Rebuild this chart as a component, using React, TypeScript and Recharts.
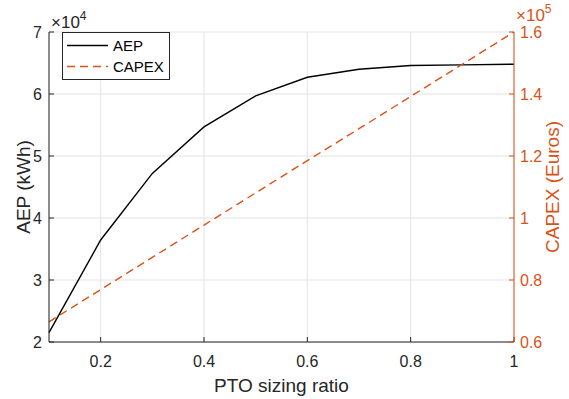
// PTO sizing ratio vs AEP / CAPEX, two y axes (MATLAB yyaxis look).

import {
  CartesianGrid,
  Label,
  Legend,
  Line,
  LineChart,
  XAxis,
  YAxis,
} from "recharts";

const ratio = [0.1, 0.2, 0.3, 0.4, 0.5, 0.6, 0.7, 0.8, 0.9, 1];
const aep = [21500, 36450, 47200, 54700, 59700, 62700, 64000, 64600, 64700, 64800];
const capex = [66500, 76900, 87300, 97700, 108100, 118500, 128800, 139200, 149600, 160000];

const xTicks = [0.2, 0.4, 0.6, 0.8, 1];
const aepTicks = [20000, 30000, 40000, 50000, 60000, 70000];
const capexTicks = [60000, 80000, 100000, 120000, 140000, 160000];

const ORANGE = "#D95319";
const AXIS = "#262626";

const data = ratio.map((r, i) => ({ ratio: r, aep: aep[i], capex: capex[i] }));

function LeftLabel(props: any) {
  const { x, y, height } = props.viewBox;
  const cy = y + height / 2;
  return (
    <g>
      <text
        x={x + 19}
        y={cy}
        transform={`rotate(-90 ${x + 19} ${cy})`}
        textAnchor="middle"
        dy="0.35em"
        fontSize={19}
        fill={AXIS}
      >
        AEP (kWh)
      </text>
      <text x={x + 47} y={y - 4} fontSize={17} fill={AXIS}>
        ×10
        <tspan dy={-8} fontSize={12}>
          4
        </tspan>
      </text>
    </g>
  );
}

function RightLabel(props: any) {
  const { x, y, height } = props.viewBox;
  const cy = y + height / 2;
  return (
    <g>
      <text
        x={x + 38}
        y={cy}
        transform={`rotate(-90 ${x + 38} ${cy})`}
        textAnchor="middle"
        dy="0.35em"
        fontSize={19}
        fill={ORANGE}
      >
        CAPEX (Euros)
      </text>
      <text x={x + 2} y={y - 11} fontSize={17} fill={ORANGE}>
        ×10
        <tspan dy={-8} fontSize={12}>
          5
        </tspan>
      </text>
    </g>
  );
}

function BottomLabel(props: any) {
  const { x, y, width } = props.viewBox;
  return (
    <text x={x + width / 2} y={y + 50} textAnchor="middle" fontSize={19} fill={AXIS}>
      PTO sizing ratio
    </text>
  );
}

function LegendBox(props: any) {
  const items = props.payload || [];
  return (
    <div
      style={{
        border: `1px solid ${AXIS}`,
        background: "#fff",
        width: 106,
        padding: "2px 0 2px 0",
        fontSize: 15,
        color: "#000",
        lineHeight: "21px",
      }}
    >
      {items.map((it: any) => (
        <div key={it.value} style={{ display: "flex", alignItems: "center" }}>
          <svg width={50} height={21}>
            <line
              x1={4}
              x2={45}
              y1={10.5}
              y2={10.5}
              stroke={it.color}
              strokeWidth={1.4}
              strokeDasharray={it.payload?.strokeDasharray}
            />
          </svg>
          <span>{it.value}</span>
        </div>
      ))}
    </div>
  );
}

export default function App() {
  return (
    <div
      style={{
        position: "absolute",
        left: 0,
        top: 0,
        fontFamily: "'Liberation Sans', Arial, sans-serif",
      }}
    >
      <LineChart
        width={569}
        height={399}
        data={data}
        margin={{ top: 32, right: 5, left: 4, bottom: 7 }}
      >
        <CartesianGrid stroke="#e3e3e3" xAxisId="x" yAxisId="left" />
        <XAxis
          xAxisId="x"
          dataKey="ratio"
          type="number"
          domain={[0.1, 1]}
          ticks={xTicks}
          height={50}
          tickSize={-5}
          tickMargin={19}
          stroke={AXIS}
          tick={{ fill: AXIS, fontSize: 16 }}
        >
          <Label content={BottomLabel} />
        </XAxis>
        <XAxis
          xAxisId="top"
          orientation="top"
          dataKey="ratio"
          type="number"
          domain={[0.1, 1]}
          ticks={xTicks}
          height={0}
          tickSize={-5}
          tick={false}
          stroke={AXIS}
        />
        <YAxis
          yAxisId="left"
          domain={[20000, 70000]}
          ticks={aepTicks}
          width={45}
          tickSize={-5}
          tickMargin={12}
          stroke={AXIS}
          tick={{ fill: AXIS, fontSize: 16 }}
          tickFormatter={(v: number) => String(v / 10000)}
        >
          <Label content={LeftLabel} />
        </YAxis>
        <YAxis
          yAxisId="right"
          orientation="right"
          domain={[60000, 160000]}
          ticks={capexTicks}
          width={50}
          tickSize={-5}
          tickMargin={11}
          stroke={ORANGE}
          tick={{ fill: ORANGE, fontSize: 16 }}
          tickFormatter={(v: number) => String(Math.round(v / 10000) / 10)}
        >
          <Label content={RightLabel} />
        </YAxis>
        <Legend
          layout="vertical"
          align="center"
          verticalAlign="middle"
          content={LegendBox}
          wrapperStyle={{ left: 62, top: 32, width: "auto" }}
        />
        <Line
          xAxisId="x"
          yAxisId="left"
          dataKey="aep"
          name="AEP"
          stroke="#000"
          strokeWidth={1.4}
          dot={false}
          isAnimationActive={false}
        />
        <Line
          xAxisId="x"
          yAxisId="right"
          dataKey="capex"
          name="CAPEX"
          stroke={ORANGE}
          strokeWidth={1.4}
          strokeDasharray="8 5"
          dot={false}
          isAnimationActive={false}
        />
      </LineChart>
    </div>
  );
}
